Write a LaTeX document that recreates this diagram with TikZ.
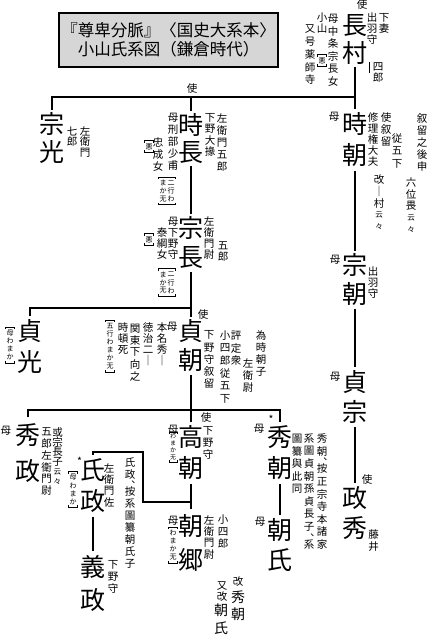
\documentclass[tikz,border=0pt]{standalone}
\usepackage{fontspec}
\setmainfont{Noto Sans CJK JP}
\usetikzlibrary{calc}
\makeatletter
\def\vt@cm{、}
\newcommand\Vcol[2][1.15]{\vbox{\offinterlineskip\@tfor\vt@c:=#2\do{%
 \ifx\vt@c\vt@cm
   \hbox to 1em{\raisebox{-0.4em}[0.5em][0pt]{︑}\hss}%
 \else
   \hbox to 1em{\hss\vbox to #1em{\vss\hbox{\vt@c}\vss}\hss}%
 \fi}}}
\makeatother
\newcommand\sz[1]{{\fontsize{7.5}{7.5}\selectfont #1}}
\newcommand\bk[1]{%
 \draw[bkl] ($(#1.north west)+(0,2)$) -- (#1.north west) -- (#1.north east) -- ($(#1.north east)+(0,2)$);
 \draw[bkl] ($(#1.south west)+(0,-2)$) -- (#1.south west) -- (#1.south east) -- ($(#1.south east)+(0,-2)$);}
\tikzset{
 big/.style={anchor=north, inner sep=0pt, font=\fontsize{25}{25}\selectfont},
 md/.style={anchor=north, inner sep=0pt, font=\fontsize{14}{14}\selectfont},
 sm/.style={anchor=north, inner sep=0pt, font=\fontsize{10.5}{10.5}\selectfont},
 lbl/.style={inner sep=0pt, font=\fontsize{10.5}{10.5}\selectfont},
 tnb/.style={inner xsep=0.8pt, inner ysep=1.5pt, font=\fontsize{7}{7}\selectfont},
 tnc/.style={inner xsep=0.6pt, inner ysep=1.2pt, font=\fontsize{6}{6}\selectfont},
 conn/.style={line width=1.6pt},
 bkl/.style={line width=0.6pt},
 titlebox/.style={draw, line width=1.8pt, fill=black!16, minimum width=219pt, minimum height=54pt, align=center, inner sep=0pt, font=\fontsize{16.5}{18.5}\selectfont}
}
\begin{document}
\begin{tikzpicture}[x=1pt,y=-1pt]
\fill[white] (0,0) rectangle (430,640);
\useasboundingbox (0,0) rectangle (430,640);
% title
\node[titlebox] (title) at (168.5,40) {『尊卑分脈』〈国史大系本〉\\小山氏系図（鎌倉時代）};
% ---- 長村
\node[big] (nagamura) at (355,11.25) {\Vcol[1.1]{長村}};
\node[lbl] (shi1) at (362,5) {使};
\node[sm] (a1) at (372,12) {\Vcol[1.05]{出羽守}};
\node[sm] (a2) at (384,12) {\Vcol[1.05]{下妻}};
\node[sm] (a3) at (378,61) {\Vcol[1.05]{四郎}};
\draw[line width=0.8pt] (369,62) -- (369,73);
\node[sm] (a4) at (333,12) {\Vcol[1.2]{母中条宗長女}};
\node[sm] (a5) at (322,12) {\Vcol[1.05]{小山}};
\node[tnb] (a6) at (322,60.5) {\Vcol{悪}}; \bk{a6}
\node[sm] (a7) at (310,23) {\Vcol[1.2]{又号薬師寺}};
% ---- row 2
\node[lbl] (shi2) at (192,89) {使};
\node[big] (munemitsu) at (52,110) {\Vcol[1.12]{宗光}};
\node[sm] (b1) at (72,126) {\Vcol[1.0]{七郎}};
\node[sm] (b2) at (85,126) {\Vcol[1.0]{左衛門}};
\node[big] (tokinaga) at (191,111) {\Vcol[1.1]{時長}};
\node[sm] (b3) at (210,112.5) {\Vcol[1.05]{下野大掾}};
\node[sm] (b4) at (222,112) {\Vcol{左衛門五郎}};
\node[sm] (b5) at (173,112) {\Vcol[1.12]{母刑部少甫}};
\node[sm] (b6) at (158,136) {\Vcol{忠成女}};
\node[tnb] (b7) at (149,146.5) {\Vcol{悪}}; \bk{b7}
\node[tnb] (b8) at (167,191) {\hbox{\Vcol{まか无}\hskip1pt\Vcol{二行わ}}}; \bk{b8}
\node[big] (tokitomo) at (355,108.5) {\Vcol[1.24]{時朝}};
\node[lbl] (m1) at (334,117) {母};
\node[sm] (c1) at (373,112) {\Vcol[1.05]{修理権大夫}};
\node[sm] (c2) at (386,112) {\Vcol[1.1]{使叙留}};
\node[sm] (c3) at (397,132) {\Vcol[1.2]{従五下}};
\node[sm] (c4) at (422,112) {\Vcol{叙留之後申}};
\node[sm] (c5) at (379,174) {\Vcol[1.1]{改｜村{\sz{云}}{\sz{々}}}};
\node[sm] (c6) at (411,177) {\Vcol[1.1]{六位畏{\sz{云}}{\sz{々}}}};
% ---- 宗長 / 宗朝
\node[big] (munenaga) at (191,213.5) {\Vcol[1.16]{宗長}};
\node[sm] (d1) at (209,216) {\Vcol[1.05]{左衛門尉}};
\node[sm] (d2) at (223,240) {\Vcol[1.05]{五郎}};
\node[sm] (d3) at (173,216) {\Vcol[1.05]{母下野守}};
\node[sm] (d4) at (162,227) {\Vcol[1.05]{泰綱女}};
\node[tnb] (d5) at (149,239.5) {\Vcol{悪}}; \bk{d5}
\node[tnb] (d6) at (167,282.5) {\hbox{\Vcol{まか无}\hskip1pt\Vcol{二行わ}}}; \bk{d6}
\node[big] (munetomo) at (355,250.5) {\Vcol[1.16]{宗朝}};
\node[lbl] (m2) at (335,260) {母};
\node[sm] (e1) at (373,266) {\Vcol[1.05]{出羽守}};
% ---- 貞光 / 貞朝 / 貞宗
\node[lbl] (shi3) at (203,315) {使};
\node[big] (sadamitsu) at (30,315.5) {\Vcol[1.24]{貞光}};
\node[tnb] (f1) at (10,345) {\Vcol{母わまか}}; \bk{f1}
\node[big] (sadatomo) at (191,316.5) {\Vcol[1.16]{貞朝}};
\node[lbl] (m3) at (172,327) {母};
\node[sm] (f2) at (162,322) {\Vcol[1.05]{本名秀｜}};
\node[sm] (f3) at (148,322) {\Vcol[1.05]{徳治二｜}};
\node[sm] (f4) at (135,322) {\Vcol{関東下向之}};
\node[sm] (f5) at (123,322) {\Vcol[1.05]{時頓死}};
\node[tnb] (f6) at (110,346) {\Vcol{五行わまか无}}; \bk{f6}
\node[sm] (g1) at (209,329) {\Vcol{下野守叙留}};
\node[sm] (g2) at (225,329) {\Vcol[1.2]{小四郎従五下}};
\node[sm] (g3) at (236,329) {\Vcol[1.2]{評定衆}};
\node[sm] (g4) at (248,357) {\Vcol{左衛尉}};
\node[sm] (g5) at (261,329) {\Vcol{為時朝子}};
\node[big] (sadamune) at (355,367) {\Vcol[1.2]{貞宗}};
\node[lbl] (m4) at (335,377) {母};
% ---- 秀政 / 高朝 / 秀朝
\node[lbl] (shi4) at (206,418) {使};
\node[big] (hidemasa) at (28,417) {\Vcol[1.44]{秀政}};
\node[lbl] (m5) at (6,431) {母};
\node[sm] (h1) at (46.5,426) {\Vcol[1.12]{五郎左衛門尉}};
\node[sm] (h2) at (57.5,427) {\Vcol[0.95]{或宗長子{\sz{云}}{\sz{々}}}};
\node[big] (takatomo) at (191,421.5) {\Vcol[1.24]{高朝}};
\node[lbl] (m6) at (173,430) {母};
\node[tnc] (h3) at (173,447) {\Vcol{わまか无}}; \bk{h3}
\node[sm] (h4) at (208,425) {\Vcol[1.1]{下野守}};
\node[lbl] (ast1) at (271,419) {*};
\node[big] (hidetomo) at (280,421.5) {\Vcol[1.24]{秀朝}};
\node[lbl] (m7) at (259,429) {母};
\node[sm] (k1) at (322,432) {\Vcol[1.2]{秀朝、按正宗寺本諸家}};
\node[sm] (k2) at (309,432) {\Vcol[1.2]{系圖貞朝孫貞長子、系}};
\node[sm] (k3) at (297,432) {\Vcol[1.2]{圖纂與此同}};
% ---- 氏政 / 義政
\node[lbl] (ast2) at (79.5,461) {*};
\node[big] (ujimasa) at (93,454.5) {\Vcol[1.24]{氏政}};
\node[tnb] (n1) at (73,489.5) {\Vcol{母わまか}}; \bk{n1}
\node[sm] (n2) at (109,462) {\Vcol[1.1]{左衛門佐}};
\node[sm] (n3) at (130,456) {\Vcol{氏政、按系圖纂朝氏子}};
\node[big] (yoshimasa) at (93,550.5) {\Vcol[1.32]{義政}};
\node[sm] (n4) at (113,559) {\Vcol[1.1]{下野守}};
% ---- 朝郷
\node[big] (tomosato) at (191,509) {\Vcol[1.36]{朝郷}};
\node[lbl] (m8) at (173,521) {母};
\node[tnb] (p1) at (173,545) {\Vcol{わまか无}}; \bk{p1}
\node[sm] (p2) at (209,514) {\Vcol[1.1]{左衛門尉}};
\node[sm] (p3) at (223,514) {\Vcol[1.1]{小四郎}};
% ---- 朝氏
\node[big] (tomouji) at (280,515) {\Vcol[1.2]{朝氏}};
\node[lbl] (m9) at (260,522) {母};
\node[lbl] (q1) at (238,582) {改};
\node[md] (q2) at (238,589) {\Vcol[1.2]{秀朝}};
\node[sm] (q3) at (222,580) {\Vcol[1.05]{又改}};
\node[md] (q4) at (221,601.5) {\Vcol[1.25]{朝氏}};
% ---- 政秀
\node[lbl] (shi5) at (367,480) {使};
\node[big] (masahide) at (355,483) {\Vcol[1.2]{政秀}};
\node[sm] (r1) at (373.5,529) {\Vcol[1.1]{藤井}};
% ---- connectors
\coordinate (jA) at (52,97);
\coordinate (jB) at (191,97);
\coordinate (jC) at (355,97);
\draw[conn] (nagamura.south) -- (jC) -- (tokitomo.north);
\draw[conn] (munemitsu.north) -- (jA) -- (jC);
\draw[conn] (jB) -- (tokinaga.north);
\draw[conn] (tokinaga.south) -- (munenaga.north);
\draw[conn] (tokitomo.south) -- (munetomo.north);
\draw[conn] (munetomo.south) -- (sadamune.north);
\draw[conn] (sadamune.south) -- (masahide.north);
\coordinate (jD) at (30,308);
\coordinate (jE) at (191,308);
\draw[conn] (munenaga.south) -- (sadatomo.north);
\draw[conn] (sadamitsu.north) -- (jD) -- (jE);
\coordinate (jF) at (28,410);
\coordinate (jG) at (280,410);
\draw[conn] (sadatomo.south) -- (takatomo.north);
\draw[conn] (hidemasa.north) -- (jF) -- (jG) -- (hidetomo.north);
\draw[conn] (takatomo.south) -- (tomosato.north);
\coordinate (jH) at (191,502);
\coordinate (jI) at (143,502);
\coordinate (jJ) at (143,452);
\coordinate (jK) at (93,452);
\draw[conn] (jH) -- (jI) -- (jJ) -- (jK) -- (ujimasa.north);
\draw[conn] (ujimasa.south) -- (yoshimasa.north);
\draw[conn] (hidetomo.south) -- (tomouji.north);
\end{tikzpicture}
\end{document}
